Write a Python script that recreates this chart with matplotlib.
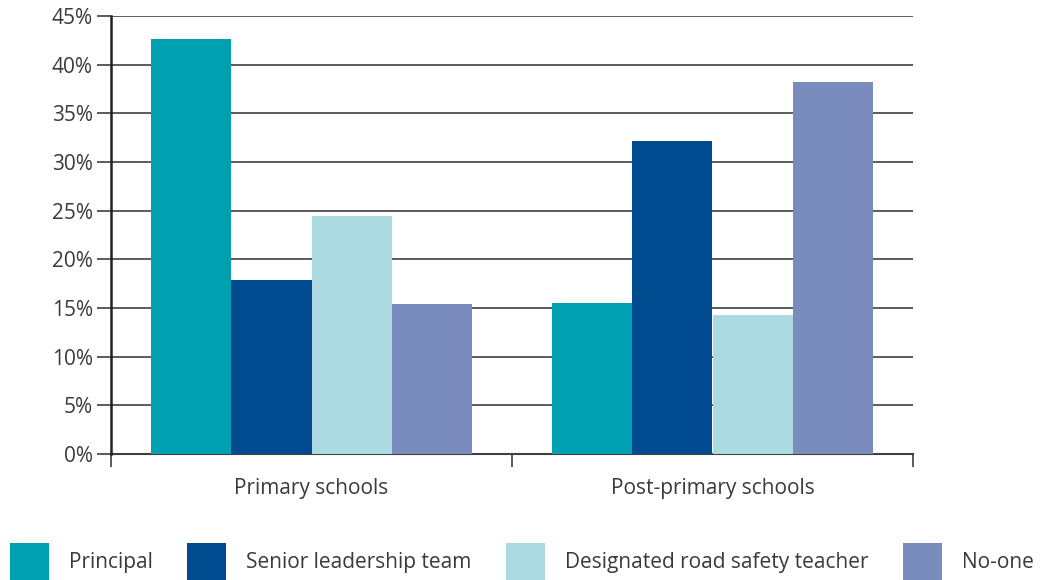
import matplotlib.pyplot as plt
import numpy as np
from matplotlib.patches import Patch
from matplotlib.ticker import FuncFormatter, MultipleLocator

plt.rcParams['font.family'] = ['Open Sans', 'DejaVu Sans']

# data
groups = ['Primary schools', 'Post-primary schools']
series = ['Principal', 'Senior leadership team', 'Designated road safety teacher', 'No-one']
principal = [42.6, 15.5]
senior = [17.9, 32.2]
designated = [24.5, 14.3]
no_one = [15.4, 38.2]
colors = ['#00A0B0', '#004A8F', '#ABDAE0', '#7A8BBD']

values = [principal, senior, designated, no_one]
text_col = '#3a3a3a'

fig = plt.figure(figsize=(10.43, 5.8), dpi=100)
ax = fig.add_axes([111/1043, 1-454/580, 802/1043, 438/580])

x = np.arange(len(groups))
w = 0.2
for i, (vals, c) in enumerate(zip(values, colors)):
    ax.bar(x + (i - 1.5)*w, vals, width=w, color=c, zorder=3, linewidth=0)

ax.set_xlim(-0.5, 1.5)
ax.set_ylim(0, 45)
ax.yaxis.set_major_locator(MultipleLocator(5))
ax.yaxis.set_major_formatter(FuncFormatter(lambda v, p: f'{v:.0f}%'))
ax.grid(axis='y', color='#404040', linewidth=1.2, zorder=1)

ax.set_xticks(x)
ax.set_xticklabels(groups)
ax.set_xticks([-0.5, 0.5, 1.5], minor=True)
ax.tick_params(axis='x', which='major', length=0, pad=17, labelsize=15, labelcolor=text_col)
ax.tick_params(axis='x', which='minor', length=9, width=1.2, color='#404040')
ax.tick_params(axis='y', length=10, width=1.2, color='#404040', pad=3, labelsize=15, labelcolor=text_col)

for s in ['top', 'right']:
    ax.spines[s].set_visible(False)
ax.spines['left'].set_color('#222222')
ax.spines['left'].set_linewidth(1.8)
ax.spines['left'].set_zorder(4)
ax.spines['bottom'].set_color('#404040')
ax.spines['bottom'].set_linewidth(1.5)

handles = [Patch(facecolor=c, edgecolor='none') for c in colors]
fig.legend(handles, series, loc='lower left', bbox_to_anchor=(10/1043, 0),
           ncol=4, frameon=False, fontsize=15, labelcolor=text_col,
           handlelength=1.87, handleheight=2.35, handletextpad=0.96,
           columnspacing=1.65, borderpad=0, borderaxespad=0)

plt.savefig('out.png', dpi=100)
